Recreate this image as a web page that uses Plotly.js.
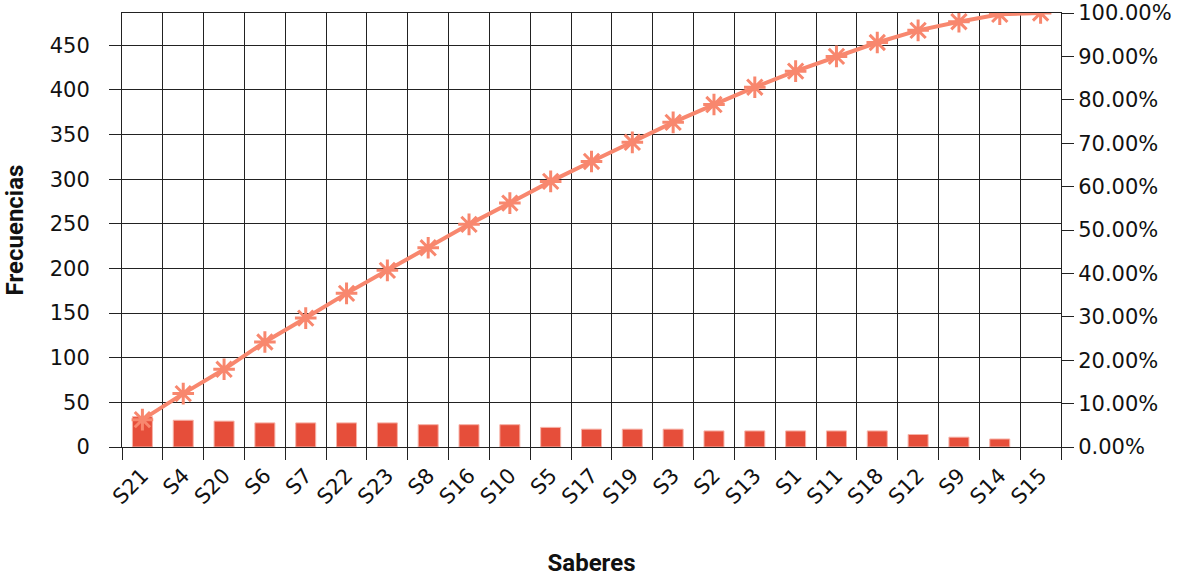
<!DOCTYPE html>
<html>
<head>
<meta charset="utf-8">
<script src="https://cdn.plot.ly/plotly-3.0.1.min.js"></script>
<style>html,body{margin:0;padding:0;background:#fff;}#chart{width:1187px;height:581px;}</style>
</head>
<body>
<div id="chart"></div>
<script>
const categories = ["S21","S4","S20","S6","S7","S22","S23","S8","S16","S10","S5","S17","S19","S3","S2","S13","S1","S11","S18","S12","S9","S14","S15"];
const frecuencias = [34,30,29,27,27,27,27,25,25,25,22,20,20,20,18,18,18,18,18,14,11,9,0];
const acumulado = [0.063,0.123,0.179,0.242,0.297,0.354,0.407,0.459,0.513,0.562,0.612,0.658,0.702,0.748,0.789,0.829,0.866,0.900,0.932,0.960,0.980,0.997,1.0];
const leftTicks = [0,50,100,150,200,250,300,350,400,450];

const tickFont = "'DejaVu Sans', sans-serif";
const titleFont = "Roboto, 'Liberation Sans', sans-serif";

const traces = [
  {
    type: 'bar', x: categories, y: frecuencias, name: 'Frecuencias',
    marker: {color: '#E64E3A', line: {color: '#F7B3A8', width: frecuencias.map(v => v > 0 ? 1 : 0)}},
    width: 0.49, yaxis: 'y'
  },
  {
    type: 'scatter', mode: 'lines+markers', x: categories, y: acumulado, name: 'Acumulado',
    yaxis: 'y2',
    line: {color: '#F8876E', width: 4},
    marker: {symbol: 'asterisk-open', size: 18, color: '#F8876E', line: {color: '#F8876E', width: 3}}
  }
];

const layout = {
  width: 1187, height: 581,
  margin: {l: 122, r: 126, t: 13, b: 134},
  paper_bgcolor: '#fff', plot_bgcolor: '#fff',
  showlegend: false,
  font: {family: tickFont, size: 21, color: '#111'},
  xaxis: {
    type: 'category',
    tickson: 'boundaries',
    showgrid: true, gridcolor: '#222', gridwidth: 1,
    ticks: 'outside', ticklen: 12, tickcolor: '#222',
    tickangle: -45,
    ticklabelstandoff: 7,
    showline: true, linecolor: '#222', mirror: true,
    zeroline: false,
    tickfont: {family: tickFont, size: 21, color: '#111'},
    title: {text: '<b>Saberes</b>', font: {family: titleFont, size: 24, color: '#111'}, standoff: 46},
    range: [-0.5, 22.5]
  },
  yaxis: {
    range: [0, 486.2],
    tickvals: leftTicks,
    showgrid: true, gridcolor: '#222', gridwidth: 1,
    ticks: 'outside', ticklen: 12, tickcolor: '#222',
    ticklabelstandoff: 15,
    showline: true, linecolor: '#222',
    zeroline: false,
    automargin: true,
    tickfont: {family: tickFont, size: 21, color: '#111'},
    title: {text: '<b>Frecuencias</b>', font: {family: titleFont, size: 24, color: '#111'}, standoff: 19}
  },
  yaxis2: {
    overlaying: 'y', side: 'right',
    range: [0, 1], dtick: 0.1, tick0: 0,
    tickformat: '.2%',
    showgrid: false,
    ticks: 'outside', ticklen: 12, tickcolor: '#222',
    showline: true, linecolor: '#222',
    zeroline: false,
    tickfont: {family: tickFont, size: 21, color: '#111'}
  }
};

Plotly.newPlot('chart', traces, layout, {displayModeBar: false, staticPlot: true});
</script>
</body>
</html>
